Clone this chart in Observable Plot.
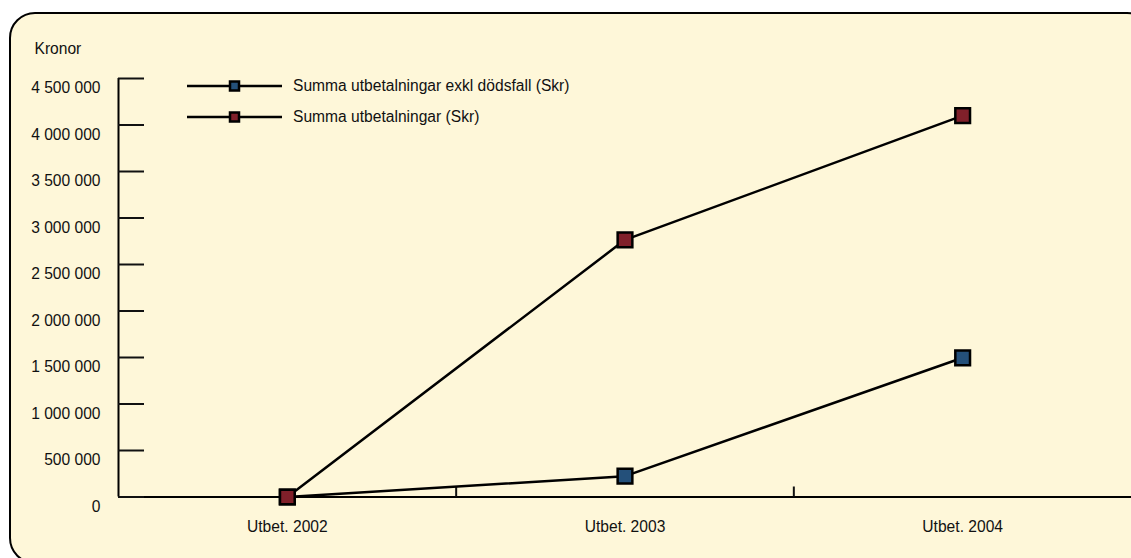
<!DOCTYPE html>
<html>
<head>
<meta charset="utf-8">
<script src="https://cdn.jsdelivr.net/npm/d3@7"></script>
<script src="https://cdn.jsdelivr.net/npm/@observablehq/plot@0.6"></script>
<style>
  html, body { margin: 0; padding: 0; background: #ffffff; }
  #wrap { position: relative; width: 1131px; height: 558px; overflow: hidden; font-family: "Liberation Sans", Arial, sans-serif; color: #111; }
  #panel { position: absolute; left: 9px; top: 11.5px; width: 1140px; height: 548px; border: 2.5px solid #000; border-radius: 26px; background: #fef7d9; }
  #chart { position: absolute; left: 0; top: 0; }
  #legend { position: absolute; left: 187px; top: 70px; font-size: 15.6px; }
  .row { display: flex; align-items: center; height: 31px; }
  .row svg { display: block; }
  .row span { margin-left: 11px; white-space: nowrap; }
</style>
</head>
<body>
<div id="wrap">
  <div id="panel"></div>
  <div id="chart"></div>
  <div id="legend"></div>
</div>
<script>
// ---- data ----
const categories = ["Utbet. 2002", "Utbet. 2003", "Utbet. 2004"];
const exklDodsfall = [0, 224000, 1497000];
const summaTotal = [0, 2765000, 4100000];
const seriesNames = ["Summa utbetalningar exkl dödsfall (Skr)", "Summa utbetalningar (Skr)"];
const seriesColors = ["#24507a", "#80202a"];
const yTicks = [0, 500000, 1000000, 1500000, 2000000, 2500000, 3000000, 3500000, 4000000, 4500000];
const yLabel = "Kronor";

// ---- build ----
const fmt = d3.formatLocale({decimal: ",", thousands: " ", grouping: [3], currency: ["", " kr"]}).format(",d");
const seriesValues = [exklDodsfall, summaTotal];
const series = seriesValues.map((vals, s) => vals.map((v, i) => ({i, v, s})));
const FONT = 15.6;
const FAMILY = "'Liberation Sans', Arial, sans-serif";

const marks = [
  // axis lines
  Plot.ruleY([0], {x1: -0.5, x2: 2.5, stroke: "#000", strokeWidth: 2}),
  Plot.ruleX([-0.5], {y1: 0, y2: yTicks[yTicks.length - 1], stroke: "#000", strokeWidth: 2}),
  // y ticks (inward) and labels
  Plot.axisY({ticks: yTicks, tickSize: -26, tickFormat: () => "", strokeWidth: 2, label: null}),
  Plot.axisY({ticks: yTicks, tickSize: 0, tickPadding: 18, tickFormat: fmt, dy: 9.5, fontSize: FONT, label: null, fill: "#111"}),
  // x boundary ticks (inward) and category labels
  Plot.axisX({ticks: [0.5, 1.5], tickSize: -10, tickFormat: () => "", strokeWidth: 2, label: null}),
  Plot.axisX({ticks: [0, 1, 2], tickSize: 0, tickPadding: 24, tickFormat: (i) => categories[i], fontSize: FONT, label: null, fill: "#111"}),
  Plot.text([yLabel], {frameAnchor: "top-left", dx: -84, dy: -30, textAnchor: "start", lineAnchor: "middle", fontSize: FONT, fill: "#111"})
];
series.forEach((d, s) => {
  marks.push(Plot.line(d, {x: "i", y: "v", stroke: "#000", strokeWidth: 2.5}));
  marks.push(Plot.dot(d, {x: "i", y: "v", symbol: "square", r: 8.3, fill: seriesColors[s], stroke: "#000", strokeWidth: 2.5}));
});

const chart = Plot.plot({
  width: 1131,
  height: 558,
  marginLeft: 118,
  marginRight: 0,
  marginTop: 78,
  marginBottom: 61.5,
  style: {background: "transparent", fontFamily: FAMILY, fontSize: FONT + "px", overflow: "visible"},
  x: {type: "linear", domain: [-0.5, 2.5], axis: null},
  y: {type: "linear", domain: [0, 4500000], axis: null},
  marks
});
document.getElementById("chart").appendChild(chart);

// ---- legend ----
const legend = document.getElementById("legend");
seriesNames.forEach((name, s) => {
  const row = document.createElement("div");
  row.className = "row";
  const ns = "http://www.w3.org/2000/svg";
  const svg = document.createElementNS(ns, "svg");
  svg.setAttribute("width", 95);
  svg.setAttribute("height", 20);
  const line = document.createElementNS(ns, "line");
  line.setAttribute("x1", 0); line.setAttribute("x2", 95);
  line.setAttribute("y1", 10); line.setAttribute("y2", 10);
  line.setAttribute("stroke", "#000"); line.setAttribute("stroke-width", 2.5);
  const rect = document.createElementNS(ns, "rect");
  rect.setAttribute("x", 43); rect.setAttribute("y", 5.5);
  rect.setAttribute("width", 9); rect.setAttribute("height", 9);
  rect.setAttribute("fill", seriesColors[s]);
  rect.setAttribute("stroke", "#000"); rect.setAttribute("stroke-width", 2.5);
  svg.appendChild(line); svg.appendChild(rect);
  const span = document.createElement("span");
  span.textContent = name;
  row.appendChild(svg); row.appendChild(span);
  legend.appendChild(row);
});
</script>
</body>
</html>
